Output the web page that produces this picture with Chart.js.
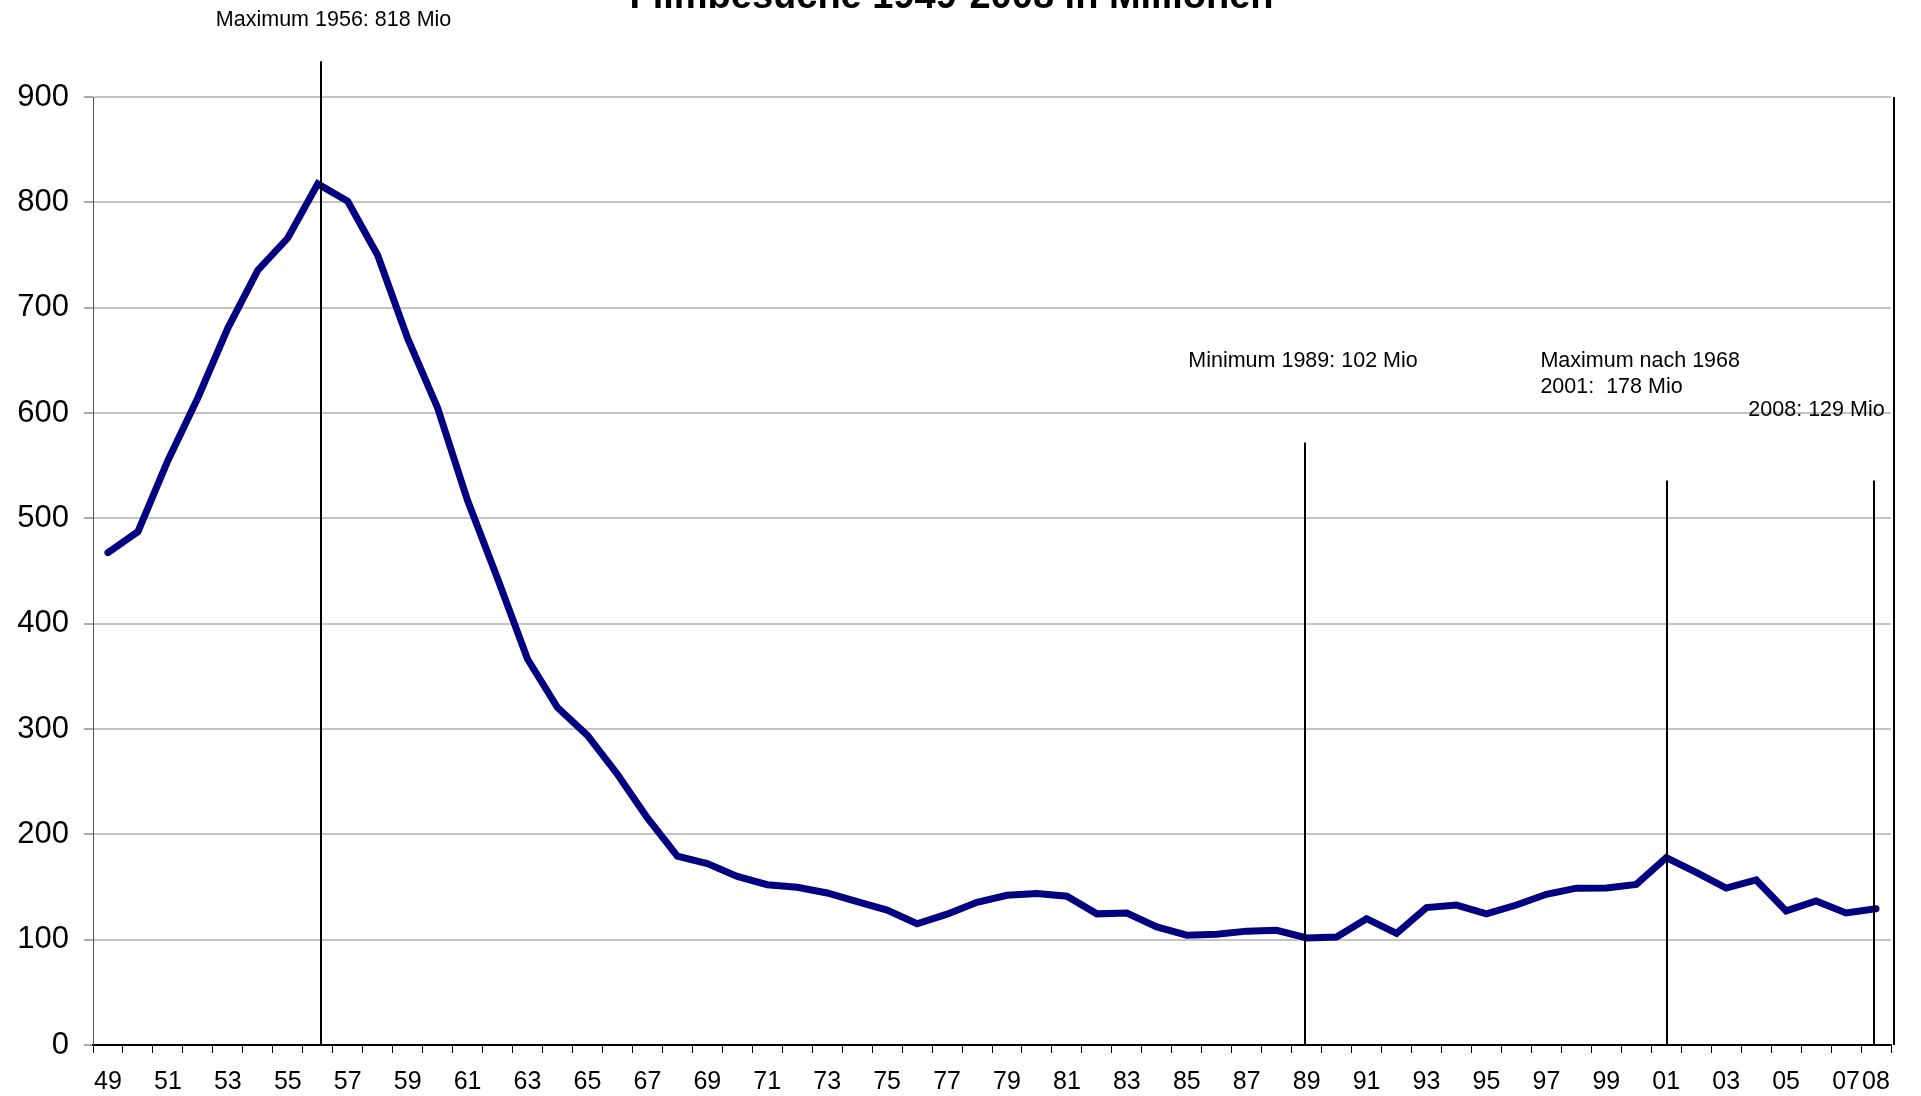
<!DOCTYPE html>
<html lang="de">
<head>
<meta charset="UTF-8">
<title>Filmbesuche 1949-2008 in Millionen</title>
<script src="https://cdn.jsdelivr.net/npm/chart.js"></script>
<style>
    html, body { margin: 0; padding: 0; background: #fff; overflow: hidden; }
    .wrap { position: relative; width: 1921px; height: 1096px; overflow: hidden; }
    /* Titel ist im Original oben angeschnitten */
    #chart { position: absolute; left: 0; top: -40px; }
</style>
</head>
<body>
<div class="wrap"><canvas id="chart" width="1921" height="1136"></canvas></div>

<script>
    const years = [
        '49', '50', '51', '52', '53', '54', '55', '56', '57', '58',
        '59', '60', '61', '62', '63', '64', '65', '66', '67', '68',
        '69', '70', '71', '72', '73', '74', '75', '76', '77', '78',
        '79', '80', '81', '82', '83', '84', '85', '86', '87', '88',
        '89', '90', '91', '92', '93', '94', '95', '96', '97', '98',
        '99', '00', '01', '02', '03', '04', '05', '06', '07', '08'
    ];

    // Filmbesuche in Mio
    const visitors = [
        467.4, 487.4, 554.9, 614.5, 680.6, 735.6, 766.1, 817.5, 801.0, 749.7,
        670.8, 604.8, 516.9, 442.9, 366.4, 320.4, 294.0, 257.1, 215.6, 179.2,
        172.2, 160.1, 152.2, 149.8, 144.3, 136.2, 128.1, 115.1, 124.2, 135.5,
        142.1, 143.8, 141.3, 124.5, 125.3, 112.1, 104.2, 105.2, 108.1, 108.9,
        101.6, 102.5, 119.9, 105.9, 130.5, 132.8, 124.5, 132.9, 143.1, 148.9,
        149.0, 152.5, 177.9, 163.9, 149.0, 156.7, 127.3, 136.7, 125.4, 129.4
    ];

    const tickLabels = [
        '49', '51', '53', '55', '57', '59', '61', '63', '65', '67',
        '69', '71', '73', '75', '77', '79', '81', '83', '85', '87',
        '89', '91', '93', '95', '97', '99', '01', '03', '05', '07', '08'
    ];

    const yTicks = [0, 100, 200, 300, 400, 500, 600, 700, 800, 900];

    // senkrechte Markierungen: Jahr, kleine Verschiebung (in Kategorien), Wert bis zu dem die Linie reicht
    const markers = [
        { year: '56', shift: 0.12, top: 934 },
        { year: '89', shift: -0.07, top: 572 },
        { year: '01', shift: 0.03, top: 536 },
        { year: '08', shift: -0.07, top: 536 }
    ];

    // Beschriftungen (at = Kategorie-Index, value = Höhe auf der y-Achse)
    const notes = [
        { text: ['Maximum 1956: 818 Mio'], at: 3.6, value: 973 },
        { text: ['Minimum 1989: 102 Mio'], at: 36.05, value: 649 },
        { text: ['Maximum nach 1968', '2001:  178 Mio'], at: 47.8, value: 649 },
        { text: ['2008: 129 Mio'], at: 54.74, value: 603 }
    ];

    const font = 'Liberation Sans';

    const markerPlugin = {
        id: 'markers',
        afterDatasetsDraw(chart) {
            const { ctx, chartArea } = chart;
            const x = chart.scales.x, y = chart.scales.y;
            ctx.save();

            // rechter Rand der Zeichenfläche
            ctx.strokeStyle = '#000';
            ctx.lineWidth = 2;
            ctx.beginPath();
            ctx.moveTo(chartArea.right + 3, chartArea.top);
            ctx.lineTo(chartArea.right + 3, chartArea.bottom);
            ctx.stroke();

            markers.forEach(m => {
                const px = Math.round(x.getPixelForValue(years.indexOf(m.year) + m.shift));
                ctx.beginPath();
                ctx.moveTo(px, y.getPixelForValue(m.top));
                ctx.lineTo(px, chartArea.bottom);
                ctx.stroke();
            });

            ctx.fillStyle = '#000';
            ctx.font = '21.5px "' + font + '"';
            ctx.textAlign = 'left';
            ctx.textBaseline = 'middle';
            notes.forEach(n => {
                const px = x.getPixelForValue(n.at);
                const py = y.getPixelForValue(n.value);
                n.text.forEach((t, i) => ctx.fillText(t, px, py + i * 26));
            });
            ctx.restore();
        }
    };

    new Chart(document.getElementById('chart').getContext('2d'), {
        type: 'line',
        data: {
            labels: years,
            datasets: [{
                label: 'Filmbesuche',
                data: visitors,
                borderColor: '#000080',
                borderWidth: 7,
                borderJoinStyle: 'miter',
                borderCapStyle: 'round',
                pointRadius: 0,
                tension: 0,
                fill: false
            }]
        },
        options: {
            responsive: false,
            animation: false,
            devicePixelRatio: 1,
            layout: { padding: { left: 12, right: 30, top: 0, bottom: 0 } },
            plugins: {
                legend: { display: false },
                tooltip: { enabled: false },
                title: {
                    display: true,
                    text: 'Filmbesuche 1949-2008 in Millionen',
                    color: '#000',
                    font: { family: font, size: 38, weight: 'bold', lineHeight: 1 },
                    padding: { top: 19, bottom: 80 }
                }
            },
            scales: {
                x: {
                    offset: true,
                    grid: {
                        offset: true,
                        drawOnChartArea: false,
                        tickLength: 8,
                        tickColor: '#000',
                        tickWidth: 1
                    },
                    border: { color: '#000', width: 2 },
                    ticks: {
                        autoSkip: false,
                        maxRotation: 0,
                        color: '#000',
                        padding: 14.5,
                        font: { family: font, size: 25 },
                        callback: (v, i) => tickLabels.includes(years[i]) ? years[i] : ''
                    },
                    afterFit: s => { s.height = 51; }
                },
                y: {
                    min: 0,
                    max: 900,
                    afterBuildTicks: s => { s.ticks = yTicks.map(v => ({ value: v })); },
                    ticks: {
                        color: '#000',
                        padding: 15,
                        font: { family: font, size: 31 }
                    },
                    grid: {
                        color: '#c4c4c4',
                        lineWidth: 2,
                        tickColor: '#555',
                        tickLength: 9,
                        tickWidth: 1
                    },
                    border: { color: '#555', width: 1 },
                    afterFit: s => { s.width = 81; }
                }
            }
        },
        plugins: [markerPlugin]
    });
</script>
</body>
</html>
